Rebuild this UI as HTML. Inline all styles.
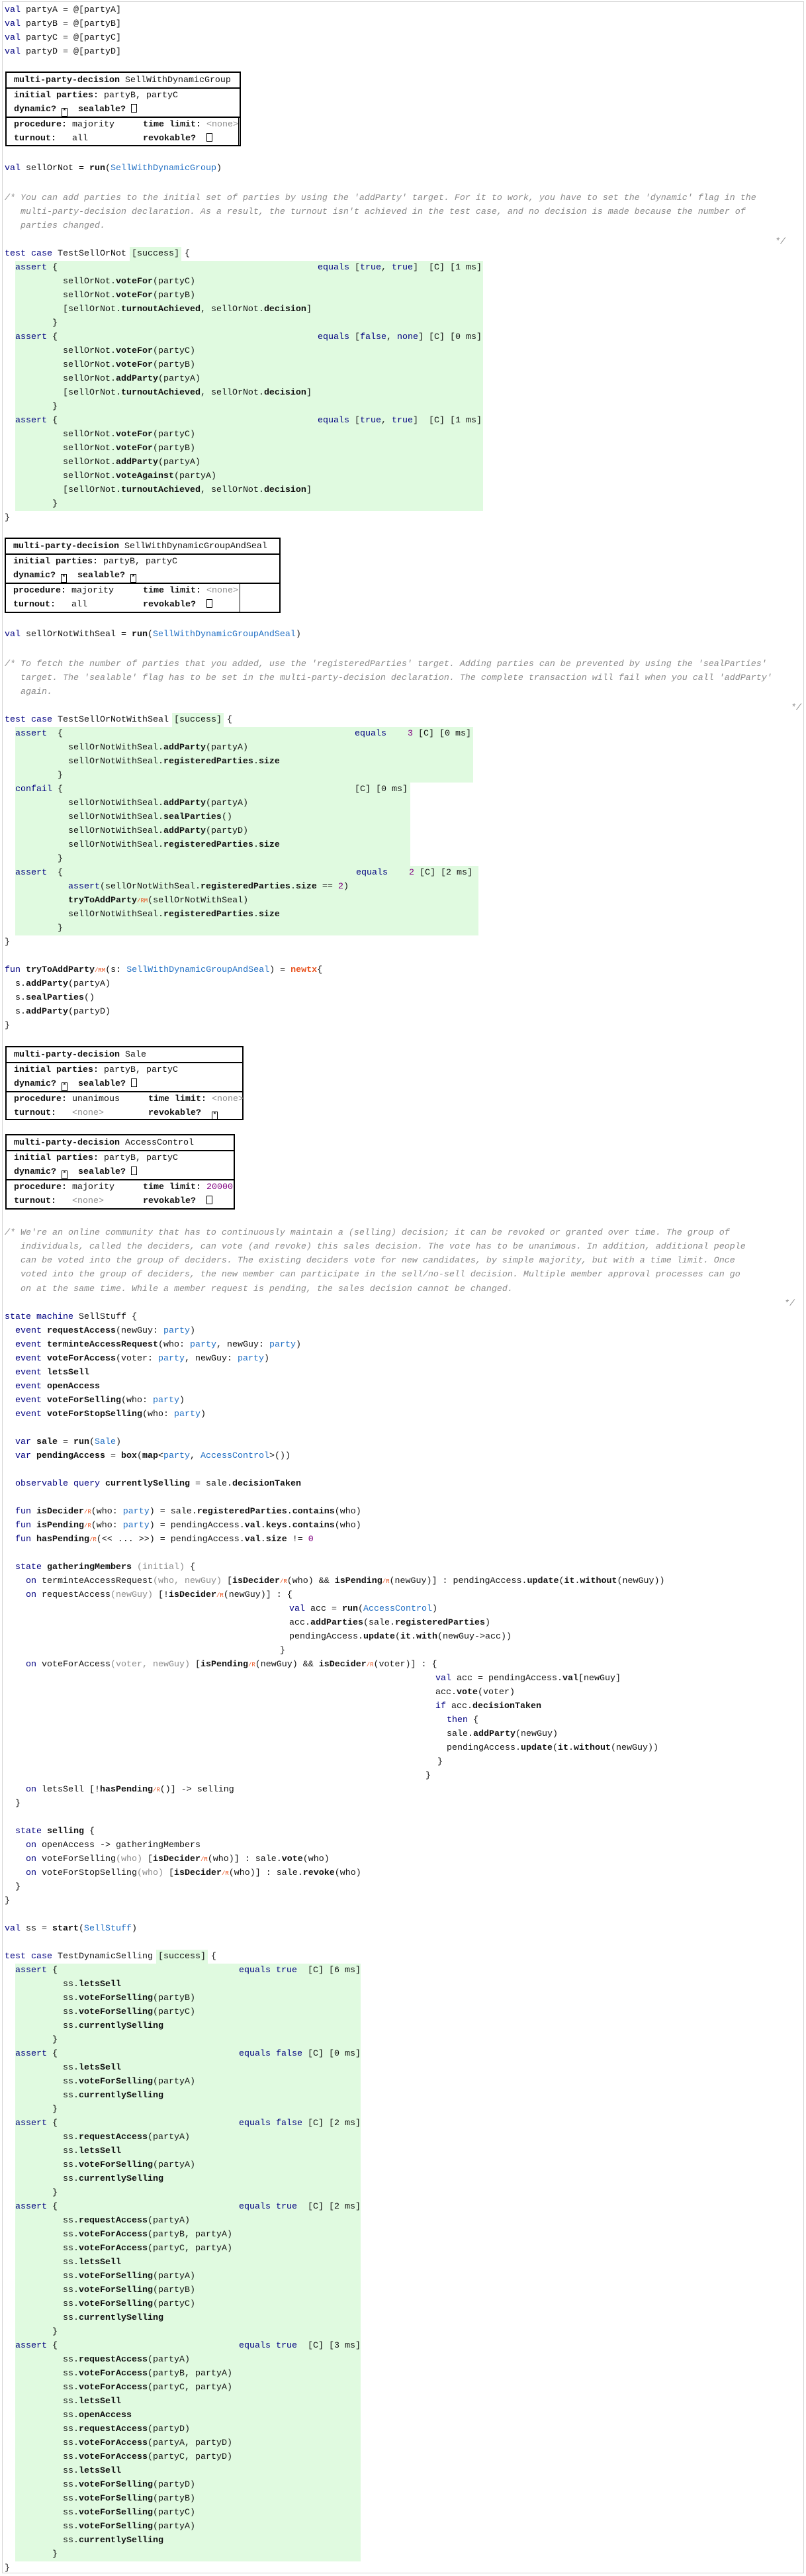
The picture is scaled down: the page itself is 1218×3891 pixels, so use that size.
<!DOCTYPE html>
<html><head><meta charset="utf-8">
<style>
html,body{margin:0;padding:0;background:#fff}
body{width:1218px;height:3891px;position:relative;overflow:hidden;font-family:"Liberation Mono","DejaVu Sans Mono",monospace;font-size:13.33px;color:#111}
.frame{position:absolute;left:3px;top:2px;width:1212px;height:3885px;border:1px solid #d4d4d4;box-sizing:border-box}
.s{position:absolute;left:7px}
.s>div{height:21px;line-height:21px;position:relative;white-space:pre}
.k{color:#000080}
.t{color:#2270c4}
.b{font-weight:bold}
.c{color:#8a8a8a;font-style:italic}
.n{color:#800080}
.g{color:#8c8c8c}
.r{color:#e8501b;font-size:9px}
.x{color:#e8501b;font-weight:bold}
.lab{position:absolute;top:0;white-space:pre}
.gr{position:absolute;background:#e0fae0}
.suc{background:#e0fae0;display:inline-block;padding:0 3px;margin:0 -3px}
.box{position:absolute;border:2px solid #000;box-sizing:border-box;line-height:21px}
.box .bh{height:24px;border-bottom:2px solid #000;box-sizing:border-box;padding:1px 0 0 11px;white-space:pre}
.box .b2{height:44px;border-bottom:2px solid #000;box-sizing:border-box;padding:0 0 0 11px}
.box .b2 div,.box .b3 div{height:21px;position:relative;white-space:pre}
.box .b3{position:relative;padding:0 0 0 11px;box-sizing:border-box;height:42px}
.box .b3 .rc{position:absolute;top:0}
.cb{display:inline-block;width:9px;height:13px;border:1.5px solid #000;vertical-align:-2px;box-sizing:border-box;font-size:9px;line-height:9px;text-align:center;font-weight:bold}
.cm{position:absolute;left:7px}
.cm div{height:21.3px;line-height:21px;white-space:pre}
</style></head><body>
<div class="frame"></div>

<div class="s" style="top:4.5px">
<div><span class="k">val</span> partyA = @[partyA]</div>
<div><span class="k">val</span> partyB = @[partyB]</div>
<div><span class="k">val</span> partyC = @[partyC]</div>
<div><span class="k">val</span> partyD = @[partyD]</div>
</div>

<div class="box" style="top:108px;left:8px;width:356px;height:113px">
<div class="bh"><span class="b">multi-party-decision</span> SellWithDynamicGroup</div>
<div class="b2"><div><span class="b">initial parties:</span> partyB, partyC</div><div><span class="b">dynamic?</span> <span class="cb">*</span>  <span class="b">sealable?</span> <span class="cb"></span></div></div>
<div class="b3" style="width:351px;border-right:1px solid #000"><div><span class="b">procedure:</span> majority<span class="rc" style="left:195px"><span class="b">time limit:</span> <span class="g">&lt;none&gt;</span></span></div><div><span class="b">turnout:</span>   all<span class="rc" style="left:195px"><span class="b">revokable?</span>  <span class="cb"></span></span></div></div>
</div>

<div class="s" style="top:243.5px"><div><span class="k">val</span> sellOrNot = <span class="b">run</span>(<span class="t">SellWithDynamicGroup</span>)</div></div>

<div class="cm c" style="top:288.5px">
<div>/* You can add parties to the initial set of parties by using the 'addParty' target. For it to work, you have to set the 'dynamic' flag in the</div>
<div>   multi-party-decision declaration. As a result, the turnout isn't achieved in the test case, and no decision is made because the number of</div>
<div>   parties changed.</div>
</div>
<div class="cm c" style="top:354.5px;left:1171px"><div>*/</div></div>

<div class="gr" style="left:23px;top:393.5px;width:707px;height:378px"></div>
<div class="s" style="top:372.5px">
<div><span class="k">test case</span> TestSellOrNot <span class="suc">[success]</span> {</div>
<div>  <span class="k">assert</span> {<span class="lab" style="left:473px"><span class="k">equals</span> [<span class="k">true</span>, <span class="k">true</span>]  [C] [1 ms]</span></div>
<div>           sellOrNot.<span class="b">voteFor</span>(partyC)</div>
<div>           sellOrNot.<span class="b">voteFor</span>(partyB)</div>
<div>           [sellOrNot.<span class="b">turnoutAchieved</span>, sellOrNot.<span class="b">decision</span>]</div>
<div>         }</div>
<div>  <span class="k">assert</span> {<span class="lab" style="left:473px"><span class="k">equals</span> [<span class="k">false</span>, <span class="k">none</span>] [C] [0 ms]</span></div>
<div>           sellOrNot.<span class="b">voteFor</span>(partyC)</div>
<div>           sellOrNot.<span class="b">voteFor</span>(partyB)</div>
<div>           sellOrNot.<span class="b">addParty</span>(partyA)</div>
<div>           [sellOrNot.<span class="b">turnoutAchieved</span>, sellOrNot.<span class="b">decision</span>]</div>
<div>         }</div>
<div>  <span class="k">assert</span> {<span class="lab" style="left:473px"><span class="k">equals</span> [<span class="k">true</span>, <span class="k">true</span>]  [C] [1 ms]</span></div>
<div>           sellOrNot.<span class="b">voteFor</span>(partyC)</div>
<div>           sellOrNot.<span class="b">voteFor</span>(partyB)</div>
<div>           sellOrNot.<span class="b">addParty</span>(partyA)</div>
<div>           sellOrNot.<span class="b">voteAgainst</span>(partyA)</div>
<div>           [sellOrNot.<span class="b">turnoutAchieved</span>, sellOrNot.<span class="b">decision</span>]</div>
<div>         }</div>
<div>}</div>
</div>

<div class="box" style="top:812px;left:7px;width:417px;height:114px">
<div class="bh"><span class="b">multi-party-decision</span> SellWithDynamicGroupAndSeal</div>
<div class="b2"><div><span class="b">initial parties:</span> partyB, partyC</div><div><span class="b">dynamic?</span> <span class="cb">*</span>  <span class="b">sealable?</span> <span class="cb">*</span></div></div>
<div class="b3" style="width:354px;border-right:1px solid #000;height:44px"><div><span class="b">procedure:</span> majority<span class="rc" style="left:196px"><span class="b">time limit:</span> <span class="g">&lt;none&gt;</span></span></div><div><span class="b">turnout:</span>   all<span class="rc" style="left:196px"><span class="b">revokable?</span>  <span class="cb"></span></span></div></div>
</div>

<div class="s" style="top:947.5px"><div><span class="k">val</span> sellOrNotWithSeal = <span class="b">run</span>(<span class="t">SellWithDynamicGroupAndSeal</span>)</div></div>

<div class="cm c" style="top:992.5px">
<div>/* To fetch the number of parties that you added, use the 'registeredParties' target. Adding parties can be prevented by using the 'sealParties'</div>
<div>   target. The 'sealable' flag has to be set in the multi-party-decision declaration. The complete transaction will fail when you call 'addParty'</div>
<div>   again.</div>
</div>
<div class="cm c" style="top:1058.5px;left:1195px"><div>*/</div></div>

<div class="gr" style="left:23px;top:1097.5px;width:692px;height:84px"></div>
<div class="gr" style="left:23px;top:1181.5px;width:597px;height:126px"></div>
<div class="gr" style="left:23px;top:1307.5px;width:700px;height:105px"></div>
<div class="s" style="top:1076.5px">
<div><span class="k">test case</span> TestSellOrNotWithSeal <span class="suc">[success]</span> {</div>
<div>  <span class="k">assert</span>  {<span class="lab" style="left:529px"><span class="k">equals</span>    <span class="n">3</span> [C] [0 ms]</span></div>
<div>            sellOrNotWithSeal.<span class="b">addParty</span>(partyA)</div>
<div>            sellOrNotWithSeal.<span class="b">registeredParties</span>.<span class="b">size</span></div>
<div>          }</div>
<div>  <span class="k">confail</span> {<span class="lab" style="left:529px">[C] [0 ms]</span></div>
<div>            sellOrNotWithSeal.<span class="b">addParty</span>(partyA)</div>
<div>            sellOrNotWithSeal.<span class="b">sealParties</span>()</div>
<div>            sellOrNotWithSeal.<span class="b">addParty</span>(partyD)</div>
<div>            sellOrNotWithSeal.<span class="b">registeredParties</span>.<span class="b">size</span></div>
<div>          }</div>
<div>  <span class="k">assert</span>  {<span class="lab" style="left:531px"><span class="k">equals</span>    <span class="n">2</span> [C] [2 ms]</span></div>
<div>            <span class="k">assert</span>(sellOrNotWithSeal.<span class="b">registeredParties</span>.<span class="b">size</span> == <span class="n">2</span>)</div>
<div>            <span class="b">tryToAddParty</span><span class="r">/RM</span>(sellOrNotWithSeal)</div>
<div>            sellOrNotWithSeal.<span class="b">registeredParties</span>.<span class="b">size</span></div>
<div>          }</div>
<div>}</div>
<div> </div>
<div><span class="k">fun</span> <span class="b">tryToAddParty</span><span class="r">/RM</span>(s: <span class="t">SellWithDynamicGroupAndSeal</span>) = <span class="x">newtx</span>{</div>
<div>  s.<span class="b">addParty</span>(partyA)</div>
<div>  s.<span class="b">sealParties</span>()</div>
<div>  s.<span class="b">addParty</span>(partyD)</div>
<div>}</div>
</div>

<div class="box" style="top:1580px;left:8px;width:360px;height:112px">
<div class="bh"><span class="b">multi-party-decision</span> Sale</div>
<div class="b2"><div><span class="b">initial parties:</span> partyB, partyC</div><div><span class="b">dynamic?</span> <span class="cb">*</span>  <span class="b">sealable?</span> <span class="cb"></span></div></div>
<div class="b3"><div><span class="b">procedure:</span> unanimous<span class="rc" style="left:203px"><span class="b">time limit:</span> <span class="g">&lt;none&gt;</span></span></div><div><span class="b">turnout:</span>   <span class="g">&lt;none&gt;</span><span class="rc" style="left:203px"><span class="b">revokable?</span>  <span class="cb">*</span></span></div></div>
</div>

<div class="box" style="top:1713px;left:8px;width:347px;height:114px">
<div class="bh"><span class="b">multi-party-decision</span> AccessControl</div>
<div class="b2"><div><span class="b">initial parties:</span> partyB, partyC</div><div><span class="b">dynamic?</span> <span class="cb">*</span>  <span class="b">sealable?</span> <span class="cb"></span></div></div>
<div class="b3"><div><span class="b">procedure:</span> majority<span class="rc" style="left:195px"><span class="b">time limit:</span> <span class="n">20000</span></span></div><div><span class="b">turnout:</span>   <span class="g">&lt;none&gt;</span><span class="rc" style="left:195px"><span class="b">revokable?</span>  <span class="cb"></span></span></div></div>
</div>

<div class="cm c" style="top:1851.5px">
<div>/* We're an online community that has to continuously maintain a (selling) decision; it can be revoked or granted over time. The group of</div>
<div>   individuals, called the deciders, can vote (and revoke) this sales decision. The vote has to be unanimous. In addition, additional people</div>
<div>   can be voted into the group of deciders. The existing deciders vote for new candidates, by simple majority, but with a time limit. Once</div>
<div>   voted into the group of deciders, the new member can participate in the sell/no-sell decision. Multiple member approval processes can go</div>
<div>   on at the same time. While a member request is pending, the sales decision cannot be changed.</div>
</div>
<div class="cm c" style="top:1958.5px;left:1185px"><div>*/</div></div>

<div class="s" style="top:1978.5px">
<div><span class="k">state machine</span> SellStuff {</div>
<div>  <span class="k">event</span> <span class="b">requestAccess</span>(newGuy: <span class="t">party</span>)</div>
<div>  <span class="k">event</span> <span class="b">terminteAccessRequest</span>(who: <span class="t">party</span>, newGuy: <span class="t">party</span>)</div>
<div>  <span class="k">event</span> <span class="b">voteForAccess</span>(voter: <span class="t">party</span>, newGuy: <span class="t">party</span>)</div>
<div>  <span class="k">event</span> <span class="b">letsSell</span></div>
<div>  <span class="k">event</span> <span class="b">openAccess</span></div>
<div>  <span class="k">event</span> <span class="b">voteForSelling</span>(who: <span class="t">party</span>)</div>
<div>  <span class="k">event</span> <span class="b">voteForStopSelling</span>(who: <span class="t">party</span>)</div>
<div> </div>
<div>  <span class="k">var</span> <span class="b">sale</span> = <span class="b">run</span>(<span class="t">Sale</span>)</div>
<div>  <span class="k">var</span> <span class="b">pendingAccess</span> = <span class="b">box</span>(<span class="b">map</span>&lt;<span class="t">party</span>, <span class="t">AccessControl</span>&gt;())</div>
<div> </div>
<div>  <span class="k">observable query</span> <span class="b">currentlySelling</span> = sale.<span class="b">decisionTaken</span></div>
<div> </div>
<div>  <span class="k">fun</span> <span class="b">isDecider</span><span class="r">/R</span>(who: <span class="t">party</span>) = sale.<span class="b">registeredParties</span>.<span class="b">contains</span>(who)</div>
<div>  <span class="k">fun</span> <span class="b">isPending</span><span class="r">/R</span>(who: <span class="t">party</span>) = pendingAccess.<span class="b">val</span>.<span class="b">keys</span>.<span class="b">contains</span>(who)</div>
<div>  <span class="k">fun</span> <span class="b">hasPending</span><span class="r">/R</span>(&lt;&lt; ... &gt;&gt;) = pendingAccess.<span class="b">val</span>.<span class="b">size</span> != <span class="n">0</span></div>
<div> </div>
<div>  <span class="k">state</span> <span class="b">gatheringMembers</span> <span class="g">(initial)</span> {</div>
<div>    <span class="k">on</span> terminteAccessRequest<span class="g">(who, newGuy)</span> [<span class="b">isDecider</span><span class="r">/R</span>(who) &amp;&amp; <span class="b">isPending</span><span class="r">/R</span>(newGuy)] : pendingAccess.<span class="b">update</span>(<span class="b">it</span>.<span class="b">without</span>(newGuy))</div>
<div>    <span class="k">on</span> requestAccess<span class="g">(newGuy)</span> [!<span class="b">isDecider</span><span class="r">/R</span>(newGuy)] : {</div>
<div><span class="lab" style="left:430px"><span class="k">val</span> acc = <span class="b">run</span>(<span class="t">AccessControl</span>)</span></div>
<div><span class="lab" style="left:430px">acc.<span class="b">addParties</span>(sale.<span class="b">registeredParties</span>)</span></div>
<div><span class="lab" style="left:430px">pendingAccess.<span class="b">update</span>(<span class="b">it</span>.<span class="b">with</span>(newGuy-&gt;acc))</span></div>
<div><span class="lab" style="left:416px">}</span></div>
<div>    <span class="k">on</span> voteForAccess<span class="g">(voter, newGuy)</span> [<span class="b">isPending</span><span class="r">/R</span>(newGuy) &amp;&amp; <span class="b">isDecider</span><span class="r">/R</span>(voter)] : {</div>
<div><span class="lab" style="left:651px"><span class="k">val</span> acc = pendingAccess.<span class="b">val</span>[newGuy]</span></div>
<div><span class="lab" style="left:651px">acc.<span class="b">vote</span>(voter)</span></div>
<div><span class="lab" style="left:651px"><span class="k">if</span> acc.<span class="b">decisionTaken</span></span></div>
<div><span class="lab" style="left:668px"><span class="k">then</span> {</span></div>
<div><span class="lab" style="left:668px">sale.<span class="b">addParty</span>(newGuy)</span></div>
<div><span class="lab" style="left:668px">pendingAccess.<span class="b">update</span>(<span class="b">it</span>.<span class="b">without</span>(newGuy))</span></div>
<div><span class="lab" style="left:654px">}</span></div>
<div><span class="lab" style="left:636px">}</span></div>
<div>    <span class="k">on</span> letsSell [!<span class="b">hasPending</span><span class="r">/R</span>()] -&gt; selling</div>
<div>  }</div>
<div> </div>
<div>  <span class="k">state</span> <span class="b">selling</span> {</div>
<div>    <span class="k">on</span> openAccess -&gt; gatheringMembers</div>
<div>    <span class="k">on</span> voteForSelling<span class="g">(who)</span> [<span class="b">isDecider</span><span class="r">/R</span>(who)] : sale.<span class="b">vote</span>(who)</div>
<div>    <span class="k">on</span> voteForStopSelling<span class="g">(who)</span> [<span class="b">isDecider</span><span class="r">/R</span>(who)] : sale.<span class="b">revoke</span>(who)</div>
<div>  }</div>
<div>}</div>
<div> </div>
<div><span class="k">val</span> ss = <span class="b">start</span>(<span class="t">SellStuff</span>)</div>
</div>

<div class="gr" style="left:23px;top:2965.5px;width:522px;height:903px"></div>
<div class="s" style="top:2944.5px">
<div><span class="k">test case</span> TestDynamicSelling <span class="suc">[success]</span> {</div>
<div>  <span class="k">assert</span> {<span class="lab" style="left:354px"><span class="k">equals true</span>  [C] [6 ms]</span></div>
<div>           ss.<span class="b">letsSell</span></div>
<div>           ss.<span class="b">voteForSelling</span>(partyB)</div>
<div>           ss.<span class="b">voteForSelling</span>(partyC)</div>
<div>           ss.<span class="b">currentlySelling</span></div>
<div>         }</div>
<div>  <span class="k">assert</span> {<span class="lab" style="left:354px"><span class="k">equals false</span> [C] [0 ms]</span></div>
<div>           ss.<span class="b">letsSell</span></div>
<div>           ss.<span class="b">voteForSelling</span>(partyA)</div>
<div>           ss.<span class="b">currentlySelling</span></div>
<div>         }</div>
<div>  <span class="k">assert</span> {<span class="lab" style="left:354px"><span class="k">equals false</span> [C] [2 ms]</span></div>
<div>           ss.<span class="b">requestAccess</span>(partyA)</div>
<div>           ss.<span class="b">letsSell</span></div>
<div>           ss.<span class="b">voteForSelling</span>(partyA)</div>
<div>           ss.<span class="b">currentlySelling</span></div>
<div>         }</div>
<div>  <span class="k">assert</span> {<span class="lab" style="left:354px"><span class="k">equals true</span>  [C] [2 ms]</span></div>
<div>           ss.<span class="b">requestAccess</span>(partyA)</div>
<div>           ss.<span class="b">voteForAccess</span>(partyB, partyA)</div>
<div>           ss.<span class="b">voteForAccess</span>(partyC, partyA)</div>
<div>           ss.<span class="b">letsSell</span></div>
<div>           ss.<span class="b">voteForSelling</span>(partyA)</div>
<div>           ss.<span class="b">voteForSelling</span>(partyB)</div>
<div>           ss.<span class="b">voteForSelling</span>(partyC)</div>
<div>           ss.<span class="b">currentlySelling</span></div>
<div>         }</div>
<div>  <span class="k">assert</span> {<span class="lab" style="left:354px"><span class="k">equals true</span>  [C] [3 ms]</span></div>
<div>           ss.<span class="b">requestAccess</span>(partyA)</div>
<div>           ss.<span class="b">voteForAccess</span>(partyB, partyA)</div>
<div>           ss.<span class="b">voteForAccess</span>(partyC, partyA)</div>
<div>           ss.<span class="b">letsSell</span></div>
<div>           ss.<span class="b">openAccess</span></div>
<div>           ss.<span class="b">requestAccess</span>(partyD)</div>
<div>           ss.<span class="b">voteForAccess</span>(partyA, partyD)</div>
<div>           ss.<span class="b">voteForAccess</span>(partyC, partyD)</div>
<div>           ss.<span class="b">letsSell</span></div>
<div>           ss.<span class="b">voteForSelling</span>(partyD)</div>
<div>           ss.<span class="b">voteForSelling</span>(partyB)</div>
<div>           ss.<span class="b">voteForSelling</span>(partyC)</div>
<div>           ss.<span class="b">voteForSelling</span>(partyA)</div>
<div>           ss.<span class="b">currentlySelling</span></div>
<div>         }</div>
<div>}</div>
</div>
</body></html>
